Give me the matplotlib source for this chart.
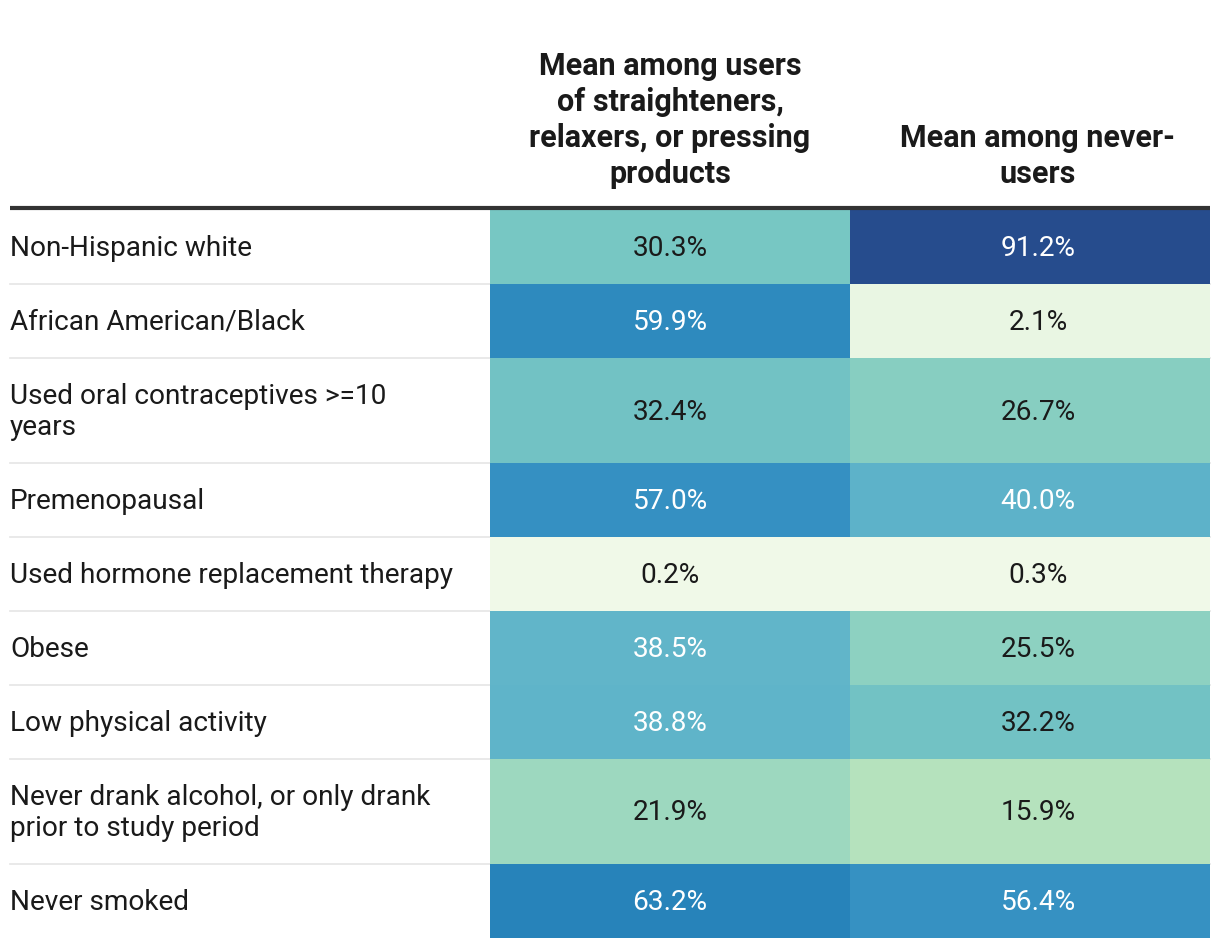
import numpy as np
import matplotlib
matplotlib.use("Agg")
import matplotlib.pyplot as plt
from matplotlib.colors import LinearSegmentedColormap, Normalize, to_rgb

plt.rcParams['font.family'] = ['Roboto', 'DejaVu Sans']

# data
row_labels = [
    "Non-Hispanic white",
    "African American/Black",
    "Used oral contraceptives >=10\nyears",
    "Premenopausal",
    "Used hormone replacement therapy",
    "Obese",
    "Low physical activity",
    "Never drank alcohol, or only drank\nprior to study period",
    "Never smoked",
]
col_headers = [
    "Mean among users\nof straighteners,\nrelaxers, or pressing\nproducts",
    "Mean among never-\nusers",
]
users = [30.3, 59.9, 32.4, 57.0, 0.2, 38.5, 38.8, 21.9, 63.2]
never_users = [91.2, 2.1, 26.7, 40.0, 0.3, 25.5, 32.2, 15.9, 56.4]

values = np.array([users, never_users]).T

# colour scale (light green -> dark blue)
cmap = LinearSegmentedColormap.from_list("gnbu_dw", [
    (0.00, "#f0f9e8"),
    (0.16, "#b4e2bc"),
    (0.22, "#9dd8bf"),
    (0.30, "#78c7c3"),
    (0.39, "#5fb4c9"),
    (0.57, "#3590c2"),
    (0.63, "#2783ba"),
    (0.92, "#264b8c"),
    (1.00, "#1f3f7a"),
])
norm = Normalize(0, 100)

W, H = 1220, 948
fig = plt.figure(figsize=(W / 100, H / 100), dpi=100)
ax = fig.add_axes([0, 0, 1, 1])
ax.set_xlim(0, W)
ax.set_ylim(H, 0)
ax.axis("off")

# layout (pixels)
left, right = 10, 1210
x_edges = np.array([490, 850, 1210])
text_x = [670, 1038]
top = 210
n_lines = [lab.count("\n") + 1 for lab in row_labels]
heights = np.array([73.8 + 32 * (n - 1) for n in n_lines])
y_edges = top + np.concatenate([[0], np.cumsum(heights)])

# row separators
for y in y_edges[1:-1]:
    ax.plot([left, right], [y, y], color="#e5e5e5", lw=1.2, zorder=1)

# cells
ax.pcolormesh(x_edges, y_edges, values, cmap=cmap, norm=norm, zorder=2)

# header line
ax.plot([left, right], [top - 2, top - 2], color="#333333", lw=3, zorder=3,
        solid_capstyle="butt")

fs = 20.2
for i, lab in enumerate(row_labels):
    yc = (y_edges[i] + y_edges[i + 1]) / 2 + 1.5
    ax.text(left, yc, lab, ha="left", va="center", fontsize=fs,
            color="#1a1a1a", linespacing=1.15)
    for j in range(2):
        v = values[i, j]
        rgb = to_rgb(cmap(norm(v)))
        lum = 0.299 * rgb[0] + 0.587 * rgb[1] + 0.114 * rgb[2]
        tc = "white" if lum < 0.645 else "#1a1a1a"
        ax.text(text_x[j], yc, f"{v:.1f}%", ha="center", va="center",
                fontsize=fs, color=tc, zorder=4)

for j, hdr in enumerate(col_headers):
    ax.text(text_x[j], 189, hdr, ha="center", va="bottom", fontsize=22,
            fontweight="bold", color="#1a1a1a", linespacing=1.25)

fig.savefig("out.png", dpi=100)
